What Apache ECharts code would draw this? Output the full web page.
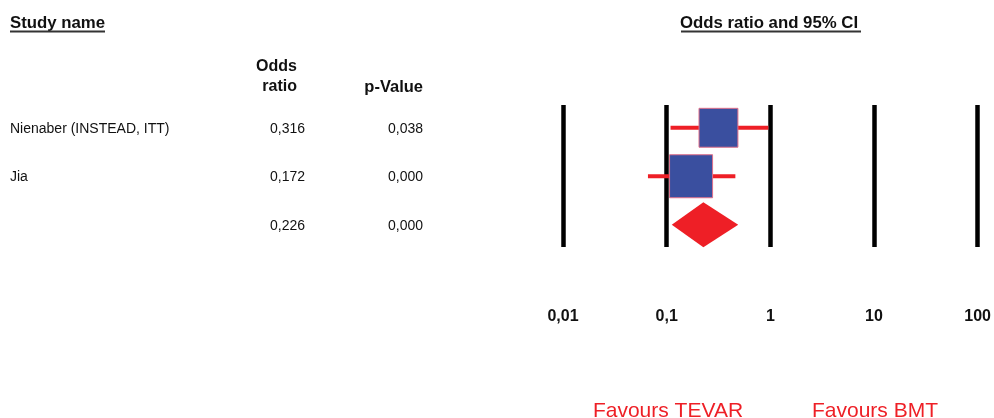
<!DOCTYPE html>
<html>
<head>
<meta charset="utf-8">
<script src="https://cdn.jsdelivr.net/npm/echarts@6/dist/echarts.min.js"></script>
<style>
  html, body { margin: 0; padding: 0; background: #fff; }
  #chart { width: 994px; height: 418px; }
</style>
</head>
<body>
<div id="chart"></div>
<script>
// ---- data ----
const studyNames = ['Nienaber (INSTEAD, ITT)', 'Jia', ''];
const oddsRatio  = [0.316, 0.172, 0.226];
const lowerCI    = [0.109, 0.066, 0.112];
const upperCI    = [0.957, 0.460, 0.490];
const pValues    = [0.038, 0.000, 0.000];
const weights    = [45, 55];            // relative study weights (%), summary row has none
const tickLabels = ['0,01', '0,1', '1', '10', '100'];
const favourLabels = ['Favours TEVAR', 'Favours BMT'];

const FONT = "'Liberation Sans', Arial, Helvetica, sans-serif";
const RED = '#ee1f26';
const BLUE = '#3a4f9f';

const fmt = v => v.toFixed(3).replace('.', ',');

const forestData = oddsRatio.map((or, i) => [or, i, lowerCI[i], upperCI[i], i < weights.length ? weights[i] : -1]);
const tableData = studyNames.map((n, i) => [1, i]);

const chart = echarts.init(document.getElementById('chart'), null, { renderer: 'canvas' });

chart.setOption({
  animation: false,
  backgroundColor: '#ffffff',
  grid: { left: 563, right: 16, top: 105, bottom: 171, containLabel: false },
  xAxis: {
    type: 'log',
    logBase: 10,
    min: 0.01,
    max: 100,
    splitNumber: 4,
    axisLine: { show: false },
    axisTick: { show: false },
    splitLine: { show: true, lineStyle: { color: '#000', width: 4.5 } },
    axisLabel: {
      margin: 62,
      fontFamily: FONT,
      fontWeight: 'bold',
      fontSize: 16,
      color: '#111',
      formatter: v => tickLabels[Math.round(Math.log10(v)) + 2]
    }
  },
  yAxis: {
    type: 'value',
    inverse: true,
    min: -0.47,
    max: 2.46,
    show: false
  },
  series: [
    {
      type: 'custom',
      name: 'forest',
      data: forestData,
      clip: false,
      renderItem: function (params, api) {
        const or = api.value(0), row = api.value(1), lo = api.value(2), hi = api.value(3), w = api.value(4);
        const c = api.coord([or, row]);
        const pl = api.coord([lo, row]);
        const ph = api.coord([hi, row]);
        const children = [];
        if (w > 0) {
          const side = 58 * Math.sqrt(w / 100);
          children.push({
            type: 'line',
            shape: { x1: pl[0], y1: c[1], x2: ph[0], y2: c[1] },
            style: { stroke: RED, lineWidth: 4 }
          });
          children.push({
            type: 'rect',
            shape: { x: c[0] - side / 2, y: c[1] - side / 2, width: side, height: side },
            style: { fill: BLUE, stroke: '#e0708a', lineWidth: 1 }
          });
        } else {
          const h = 22.5;
          children.push({
            type: 'polygon',
            shape: { points: [[pl[0], c[1]], [c[0], c[1] - h], [ph[0], c[1]], [c[0], c[1] + h]] },
            style: { fill: RED }
          });
        }
        return { type: 'group', children: children };
      }
    },
    {
      type: 'custom',
      name: 'table',
      data: tableData,
      clip: false,
      renderItem: function (params, api) {
        const i = params.dataIndex;
        const y = api.coord([1, api.value(1)])[1] + 1;
        const base = { fontFamily: FONT, fontSize: 14, fill: '#111', verticalAlign: 'middle' };
        return {
          type: 'group',
          children: [
            { type: 'text', style: Object.assign({}, base, { x: 10, y: y, text: studyNames[i], align: 'left' }) },
            { type: 'text', style: Object.assign({}, base, { x: 305, y: y, text: fmt(oddsRatio[i]), align: 'right' }) },
            { type: 'text', style: Object.assign({}, base, { x: 423, y: y, text: fmt(pValues[i]), align: 'right' }) }
          ]
        };
      }
    }
  ],
  graphic: [
    { type: 'text', style: { x: 10, y: 23, text: 'Study name', fontFamily: FONT, fontWeight: 'bold', fontSize: 16.8, fill: '#111', verticalAlign: 'middle' } },
    { type: 'line', shape: { x1: 10, y1: 31.5, x2: 105, y2: 31.5 }, style: { stroke: '#333', lineWidth: 2 } },
    { type: 'text', style: { x: 680, y: 23, text: 'Odds ratio and 95% CI', fontFamily: FONT, fontWeight: 'bold', fontSize: 16.8, fill: '#111', verticalAlign: 'middle' } },
    { type: 'line', shape: { x1: 681, y1: 31.5, x2: 861, y2: 31.5 }, style: { stroke: '#333', lineWidth: 2 } },
    { type: 'text', style: { x: 297, y: 67, text: 'Odds', fontFamily: FONT, fontWeight: 'bold', fontSize: 16, fill: '#111', align: 'right', verticalAlign: 'middle' } },
    { type: 'text', style: { x: 297, y: 87, text: 'ratio', fontFamily: FONT, fontWeight: 'bold', fontSize: 16, fill: '#111', align: 'right', verticalAlign: 'middle' } },
    { type: 'text', style: { x: 423, y: 87, text: 'p-Value', fontFamily: FONT, fontWeight: 'bold', fontSize: 16.5, fill: '#111', align: 'right', verticalAlign: 'middle' } },
    { type: 'text', style: { x: 668, y: 411, text: favourLabels[0], fontFamily: FONT, fontSize: 21, fill: RED, align: 'center', verticalAlign: 'middle' } },
    { type: 'text', style: { x: 875, y: 411, text: favourLabels[1], fontFamily: FONT, fontSize: 21, fill: RED, align: 'center', verticalAlign: 'middle' } }
  ]
});
</script>
</body>
</html>
